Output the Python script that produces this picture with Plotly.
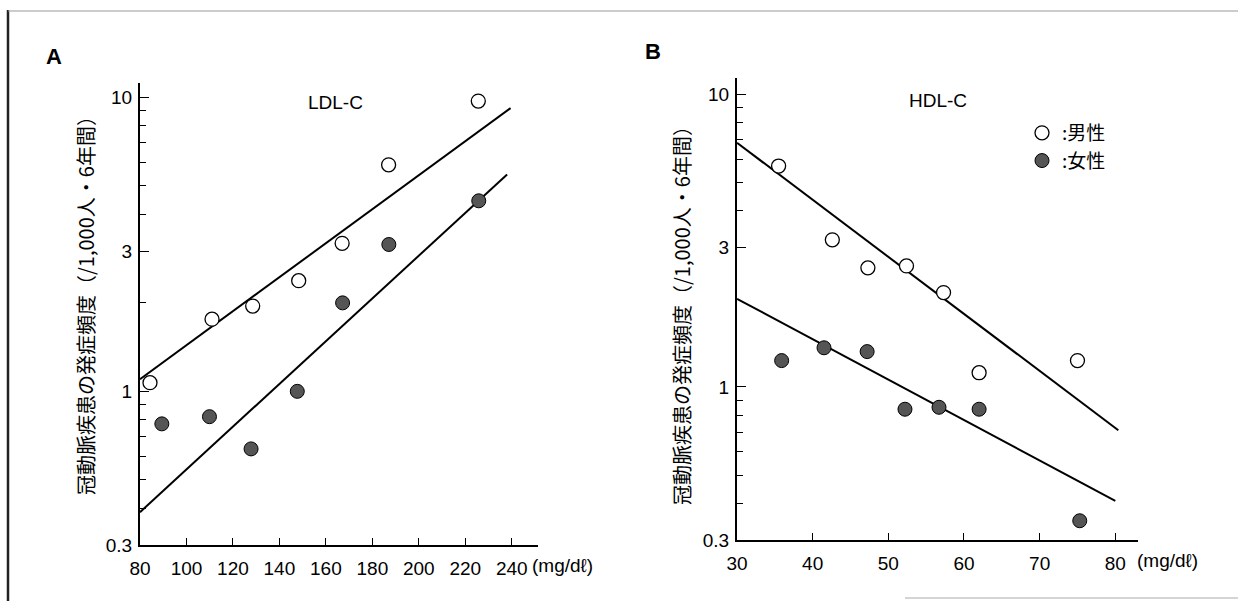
import math
import plotly.graph_objects as go

W, H = 1238, 601

# ---------------- data ----------------
# Panel A: LDL-C
ldl_men_x = [84.3, 111.0, 128.5, 148.3, 167.0, 187.0, 225.6]
ldl_men_y = [1.07, 1.76, 1.95, 2.38, 3.19, 5.90, 9.72]
ldl_women_x = [89.4, 109.9, 127.8, 147.7, 167.2, 187.1, 225.8]
ldl_women_y = [0.775, 0.82, 0.637, 1.0, 2.0, 3.16, 4.45]
ldl_men_fit_x = [80, 239.5]
ldl_men_fit_y = [1.10, 9.2]
ldl_women_fit_x = [80, 238]
ldl_women_fit_y = [0.388, 5.47]

# Panel B: HDL-C
hdl_men_x = [35.5, 42.6, 47.3, 52.4, 57.3, 62.0, 75.0]
hdl_men_y = [5.68, 3.18, 2.55, 2.59, 2.10, 1.118, 1.23]
hdl_women_x = [35.9, 41.5, 47.2, 52.2, 56.7, 62.0, 75.3]
hdl_women_y = [1.23, 1.36, 1.32, 0.839, 0.852, 0.839, 0.349]
hdl_men_fit_x = [30, 80.4]
hdl_men_fit_y = [6.82, 0.711]
hdl_women_fit_x = [30, 80]
hdl_women_fit_y = [2.00, 0.408]

ldl_ticks = [80, 100, 120, 140, 160, 180, 200, 220, 240]
hdl_ticks = [30, 40, 50, 60, 70, 80]
y_major = [0.3, 1, 3, 10]
y_major_text = ["0.3", "1", "3", "10"]
ldl_y_minor = [0.4, 0.5, 0.6, 0.7, 0.8, 0.9, 2, 4, 5, 6, 7, 8, 9]
hdl_y_minor = [0.4, 0.5, 0.6, 0.7, 0.8, 0.9, 4, 5, 6, 7, 8, 9]

ytitle = "冠動脈疾患の発症頻度（/1,000人・6年間）"
unit = "(mg/dℓ)"
legend_names = [":男性", ":女性"]

FONT = "Liberation Sans, Arial, Noto Sans CJK JP, sans-serif"
JFONT = "Noto Sans CJK JP, Liberation Sans, sans-serif"
FILL = "#555555"


def px(x):
    return x / W


def py(y):
    return 1 - y / H


fig = go.Figure()

open_marker = dict(symbol="circle", size=14, color="white", line=dict(color="black", width=1.3))
fill_marker = dict(symbol="circle", size=14, color=FILL, line=dict(color="black", width=1))
line_style = dict(color="black", width=2)

# Panel A
fig.add_trace(go.Scatter(x=ldl_men_fit_x, y=ldl_men_fit_y, mode="lines", line=line_style,
                         xaxis="x", yaxis="y", showlegend=False))
fig.add_trace(go.Scatter(x=ldl_women_fit_x, y=ldl_women_fit_y, mode="lines", line=line_style,
                         xaxis="x", yaxis="y", showlegend=False))
fig.add_trace(go.Scatter(x=ldl_men_x, y=ldl_men_y, mode="markers", marker=open_marker,
                         xaxis="x", yaxis="y", showlegend=False))
fig.add_trace(go.Scatter(x=ldl_women_x, y=ldl_women_y, mode="markers", marker=fill_marker,
                         xaxis="x", yaxis="y", showlegend=False))

# Panel B
fig.add_trace(go.Scatter(x=hdl_men_fit_x, y=hdl_men_fit_y, mode="lines", line=line_style,
                         xaxis="x2", yaxis="y2", showlegend=False))
fig.add_trace(go.Scatter(x=hdl_women_fit_x, y=hdl_women_fit_y, mode="lines", line=line_style,
                         xaxis="x2", yaxis="y2", showlegend=False))
fig.add_trace(go.Scatter(x=hdl_men_x, y=hdl_men_y, mode="markers", marker=open_marker,
                         xaxis="x2", yaxis="y2", name=legend_names[0], showlegend=True))
fig.add_trace(go.Scatter(x=hdl_women_x, y=hdl_women_y, mode="markers", marker=fill_marker,
                         xaxis="x2", yaxis="y2", name=legend_names[1], showlegend=True))

common_x = dict(showgrid=False, zeroline=False, showline=True, linecolor="black", linewidth=2,
                ticks="inside", ticklen=7, tickwidth=1.2, tickcolor="black",
                tickfont=dict(family=FONT, size=19, color="black"), tickmode="array",
                ticklabelstandoff=5)
common_y = dict(type="log", showgrid=False, zeroline=False, showline=True, linecolor="black",
                linewidth=2, ticks="inside", ticklen=9, tickwidth=1.2, tickcolor="black",
                tickfont=dict(family=FONT, size=19, color="black"), tickmode="array",
                tickvals=y_major, ticktext=y_major_text, ticklabelstandoff=2)

fig.update_layout(
    width=W, height=H,
    margin=dict(l=0, r=0, t=0, b=0, autoexpand=False),
    paper_bgcolor="white", plot_bgcolor="white",
    showlegend=True,
    legend=dict(x=px(1022), y=py(114), xanchor="left", yanchor="top",
                bgcolor="rgba(0,0,0,0)", borderwidth=0, itemwidth=30,
                font=dict(family=JFONT, size=19, color="black"), tracegroupgap=0),
    xaxis=dict(domain=[px(140), px(538)], range=[80, 251.3], anchor="y",
               tickvals=ldl_ticks, ticktext=[str(v) for v in ldl_ticks], **common_x),
    yaxis=dict(domain=[py(545), py(83)], range=[math.log10(0.3), math.log10(11.2)], anchor="x",
               minor=dict(tickvals=ldl_y_minor, ticks="inside", ticklen=6, tickcolor="black",
                          tickwidth=1, showgrid=False), **common_y),
    xaxis2=dict(domain=[px(737), px(1138)], range=[30, 83.0], anchor="y2",
                tickvals=hdl_ticks, ticktext=[str(v) for v in hdl_ticks], **common_x),
    yaxis2=dict(domain=[py(540), py(78)], range=[math.log10(0.3), math.log10(11.35)], anchor="x2",
                minor=dict(tickvals=hdl_y_minor, ticks="inside", ticklen=6, tickcolor="black",
                           tickwidth=1, showgrid=False), **common_y),
)

C = dict(xanchor="center", yanchor="middle", showarrow=False)
ann = []
ann.append(dict(text="<b>A</b>", x=px(54), y=py(56), xref="paper", yref="paper",
                font=dict(family=FONT, size=22, color="black"), **C))
ann.append(dict(text="<b>B</b>", x=px(653), y=py(51), xref="paper", yref="paper",
                font=dict(family=FONT, size=22, color="black"), **C))
ann.append(dict(text="LDL-C", x=164, y=math.log10(9.6), xref="x", yref="y",
                font=dict(family=FONT, size=19, color="black"), **C))
ann.append(dict(text="HDL-C", x=56.5, y=math.log10(9.5), xref="x2", yref="y2",
                font=dict(family=FONT, size=19, color="black"), **C))
ann.append(dict(text=ytitle, x=px(85), y=py(300), xref="paper", yref="paper", textangle=-90,
                font=dict(family=JFONT, size=20, color="black"), **C))
ann.append(dict(text=ytitle, x=px(681), y=py(311), xref="paper", yref="paper", textangle=-90,
                font=dict(family=JFONT, size=20, color="black"), **C))
ann.append(dict(text=unit, x=px(530), y=py(565), xref="paper", yref="paper", xanchor="left",
                yanchor="middle", showarrow=False, font=dict(family=FONT, size=19, color="black")))
ann.append(dict(text=unit, x=px(1135), y=py(560), xref="paper", yref="paper", xanchor="left",
                yanchor="middle", showarrow=False, font=dict(family=FONT, size=19, color="black")))
fig.update_layout(annotations=ann)

# scanned frame edges
fig.add_shape(type="line", xref="paper", yref="paper", x0=px(8), x1=px(8), y0=py(10), y1=py(601),
              line=dict(color="#222", width=2.5))
fig.add_shape(type="line", xref="paper", yref="paper", x0=px(8), x1=1, y0=py(11), y1=py(11),
              line=dict(color="#999", width=1))
fig.add_shape(type="line", xref="paper", yref="paper", x0=px(905), x1=1, y0=py(598), y1=py(598),
              line=dict(color="#aaa", width=1))

fig.write_html("out.html")
